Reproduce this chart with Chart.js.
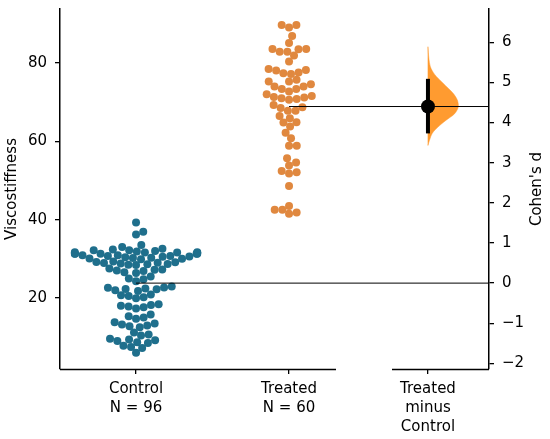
<!DOCTYPE html>
<html><head><meta charset="utf-8">
<script src="https://cdn.jsdelivr.net/npm/chart.js@4.4.1/dist/chart.umd.min.js"></script>
<style>html,body{margin:0;padding:0;background:#fff}#wrap{width:550px;height:439px;position:relative}</style>
</head><body><div id="wrap"><canvas id="c" width="550" height="439"></canvas></div>
<script>
// ---------------- data ----------------
const groupNames = ['Control', 'Treated'];
const controlValues = [39.3, 36.9, 36.2, 33.5, 33.0, 32.6,
  32.2, 32.2, 31.3, 31.3, 32.4, 31.7, 31.6, 31.3, 31.3, 31.9, 31.3, 31.6, 31.7, 32.0, 31.5,
  30.9, 30.7, 30.7, 30.9, 30.2, 29.9, 30.4, 30.1, 30.6, 30.3, 30.0, 30.5,
  29.3, 29.0, 28.8, 28.6, 29.1, 28.9, 28.4, 28.7, 29.2, 28.5,
  27.5, 27.2, 26.9, 27.0, 26.6, 27.3, 26.4,
  25.5, 25.0, 24.8, 24.3,
  22.9, 22.6, 22.4, 22.2, 22.0, 22.7, 21.8, 22.3,
  20.9, 20.5, 20.2, 20.7, 19.9,
  18.4, 18.0, 17.6, 17.8, 18.2, 17.3,
  15.8, 15.3, 15.0, 14.7,
  13.5, 13.0, 12.8, 13.2, 12.5, 13.8,
  11.2, 10.7, 10.4,
  9.4, 9.0, 8.7, 9.2, 8.5, 9.6,
  7.8, 7.5, 7.2,
  6.0];
const treatedValues = [89.7, 89.1, 89.7, 86.9, 85.1, 83.6, 83.5, 82.9, 82.9, 83.6,
  81.9, 80.4, 78.2, 77.6, 77.2, 77.4, 78.1, 78.5, 75.7, 75.3,
  74.6, 74.0, 73.4, 72.7, 73.4, 74.0, 75.3, 71.6, 71.2, 71.0,
  70.6, 70.8, 71.3, 72.0, 68.7, 67.8, 67.8, 68.5, 69.3, 65.9,
  66.5, 64.9, 64.8, 63.8, 62.2, 60.8, 58.9, 58.9, 55.7, 54.6,
  53.8, 52.1, 51.8, 52.4, 48.6, 43.5, 41.8, 41.5, 42.5, 42.5];
const effectName = ['Treated', 'minus', 'Control'];
const effectSize = 4.4;
const effectCI = [3.73, 5.09];
const bootD = [3.43, 3.56, 3.73, 3.89, 4.06, 4.22, 4.39, 4.56, 4.73, 4.98, 5.2, 5.39, 5.6, 5.89];
const bootDensity = [0, 0.05, 0.14, 0.33, 0.6, 0.88, 1.0, 0.97, 0.83, 0.5, 0.22, 0.08, 0.03, 0];
const leftTicks = [20, 40, 60, 80];
const rightTicks = [-2, -1, 0, 1, 2, 3, 4, 5, 6];
const yTitle = 'Viscostiffness';
const effectTitle = "Cohen's d";

// ---------------- layout / style ----------------
const POS = { control: 0, treated: 1, effect: 1.908 };
const X_MIN = -0.497, X_MAX = 2.307, LEFT_END = 1.307, RIGHT_START = 1.673;
const Y_MIN = 1.86, Y_MAX = 93.8, D_MIN = -2.14, D_MAX = 6.83;
const VIOLIN_W = 0.198, SWARM_HALF = 0.4, DOT_R = 4;
const C_BLUE = '#1f6f8c', C_ORANGE = '#e0883f', C_VIOLIN = '#ff9b30';
const FONT = "'DejaVu Sans', sans-serif";

Chart.defaults.font.family = FONT;
Chart.defaults.font.size = 15;
Chart.defaults.color = '#000';

const violinData = bootD.map((d, i) => ({ x: POS.effect + VIOLIN_W * bootDensity[i], y: d }))
  .concat([{ x: POS.effect, y: bootD[bootD.length - 1] }, { x: POS.effect, y: bootD[0] }]);

const xLabels = {};
xLabels[POS.control] = [groupNames[0], 'N = ' + controlValues.length];
xLabels[POS.treated] = [groupNames[1], 'N = ' + treatedValues.length];
xLabels[POS.effect] = effectName;

const extras = {
  id: 'extras',
  afterDraw(chart) {
    const ctx = chart.ctx, xs = chart.scales.x, a = chart.chartArea;
    ctx.save();
    ctx.strokeStyle = '#000'; ctx.lineWidth = 1.5;
    ctx.beginPath();
    ctx.moveTo(xs.getPixelForValue(X_MIN), a.bottom + 0.5);
    ctx.lineTo(xs.getPixelForValue(LEFT_END), a.bottom + 0.5);
    ctx.moveTo(xs.getPixelForValue(RIGHT_START), a.bottom + 0.5);
    ctx.lineTo(xs.getPixelForValue(X_MAX), a.bottom + 0.5);
    ctx.stroke();
    ctx.translate(536.7, (a.top + a.bottom) / 2);
    ctx.rotate(-Math.PI / 2);
    ctx.font = '15px ' + FONT; ctx.fillStyle = '#000';
    ctx.textAlign = 'center'; ctx.textBaseline = 'middle';
    ctx.fillText(effectTitle, 0, 0);
    ctx.restore();
  }
};

const chart = new Chart(document.getElementById('c'), {
  type: 'scatter',
  data: { datasets: [
    { label: 'control-mean', type: 'line', yAxisID: 'y2', data: [{ x: POS.control, y: 0 }, { x: X_MAX, y: 0 }],
      borderColor: '#000', borderWidth: 1, pointRadius: 0, order: 0 },
    { label: 'treated-mean', type: 'line', yAxisID: 'y2', data: [{ x: POS.treated, y: effectSize }, { x: X_MAX, y: effectSize }],
      borderColor: '#000', borderWidth: 1, pointRadius: 0, order: 0 },
    { label: 'Control', data: [], backgroundColor: C_BLUE, borderWidth: 0, pointRadius: DOT_R, order: 2 },
    { label: 'Treated', data: [], backgroundColor: C_ORANGE, borderWidth: 0, pointRadius: DOT_R, order: 2 },
    { label: 'violin', type: 'line', yAxisID: 'y2', data: violinData, fill: 'shape', backgroundColor: C_VIOLIN,
      borderColor: C_VIOLIN, borderWidth: 0.5, pointRadius: 0, tension: 0.3, order: 3 },
    { label: 'ci', type: 'line', yAxisID: 'y2', data: [{ x: POS.effect, y: effectCI[0] }, { x: POS.effect, y: effectCI[1] }],
      borderColor: '#000', borderWidth: 4, pointRadius: 0, order: -1 },
    { label: 'effect', yAxisID: 'y2', data: [{ x: POS.effect, y: effectSize }], backgroundColor: '#000',
      borderWidth: 0, pointRadius: 7, order: -2 }
  ] },
  options: {
    responsive: false, animation: false,
    layout: { padding: { top: 0, left: 0, right: 0, bottom: 0 } },
    plugins: { legend: { display: false }, tooltip: { enabled: false } },
    scales: {
      x: {
        type: 'linear', min: X_MIN, max: X_MAX,
        afterBuildTicks: s => { s.ticks = [POS.control, POS.treated, POS.effect].map(v => ({ value: v })); },
        afterFit: s => { s.height = 70; },
        ticks: { callback: v => xLabels[v], padding: 6, maxRotation: 0, autoSkip: false,
          font: { size: 15, lineHeight: 1.25 } },
        grid: { drawOnChartArea: false, drawTicks: true, tickLength: 5, color: '#000', lineWidth: 1.3 },
        border: { display: false }
      },
      y: {
        position: 'left', min: Y_MIN, max: Y_MAX,
        afterBuildTicks: s => { s.ticks = leftTicks.map(v => ({ value: v })); },
        afterFit: s => { s.width = 60; s.paddingTop = 9; s.paddingBottom = 0; },
        ticks: { padding: 8 },
        grid: { drawOnChartArea: false, tickLength: 5, color: '#000', lineWidth: 1.3 },
        border: { display: true, color: '#000', width: 1.5 },
        title: { display: true, text: yTitle, padding: { top: 3, bottom: 0 }, font: { size: 15 } }
      },
      y2: {
        position: 'right', min: D_MIN, max: D_MAX,
        afterBuildTicks: s => { s.ticks = rightTicks.map(v => ({ value: v })); },
        afterFit: s => { s.width = 61; s.paddingTop = 9; s.paddingBottom = 0; },
        ticks: { padding: 8, callback: v => (v < 0 ? '\u2212' + Math.abs(v) : String(v)) },
        grid: { drawOnChartArea: false, tickLength: 5, color: '#000', lineWidth: 1.3 },
        border: { display: true, color: '#000', width: 1.5 }
      }
    }
  },
  plugins: [extras]
});

// beeswarm placement computed in pixel space through the chart's scales
function swarm(values, center) {
  const xs = chart.scales.x, ys = chart.scales.y;
  const cPx = xs.getPixelForValue(center);
  const limit = xs.getPixelForValue(center + SWARM_HALF) - cPx;
  const d = DOT_R * 2 - 0.3;
  const pts = values.map(v => ({ v, py: ys.getPixelForValue(v), dx: 0 }));
  const order = pts.slice().sort((a, b) => a.v - b.v);
  const placed = [];
  for (const p of order) {
    const neigh = placed.filter(q => Math.abs(q.py - p.py) < d);
    const cands = [0];
    for (const q of neigh) {
      const off = Math.sqrt(d * d - (q.py - p.py) ** 2);
      cands.push(q.dx + off, q.dx - off);
    }
    cands.sort((a, b) => Math.abs(a) - Math.abs(b));
    let chosen = cands[cands.length - 1];
    for (const c of cands) {
      if (neigh.every(q => (c - q.dx) ** 2 + (p.py - q.py) ** 2 >= d * d - 1e-6)) { chosen = c; break; }
    }
    p.dx = chosen;
    placed.push(p);
  }
  return pts.map(p => {
    const dx = Math.max(-limit, Math.min(limit, p.dx));
    return { x: xs.getValueForPixel(cPx + dx), y: p.v };
  });
}
chart.data.datasets[2].data = swarm(controlValues, POS.control);
chart.data.datasets[3].data = swarm(treatedValues, POS.treated);
chart.update('none');
</script></body></html>
